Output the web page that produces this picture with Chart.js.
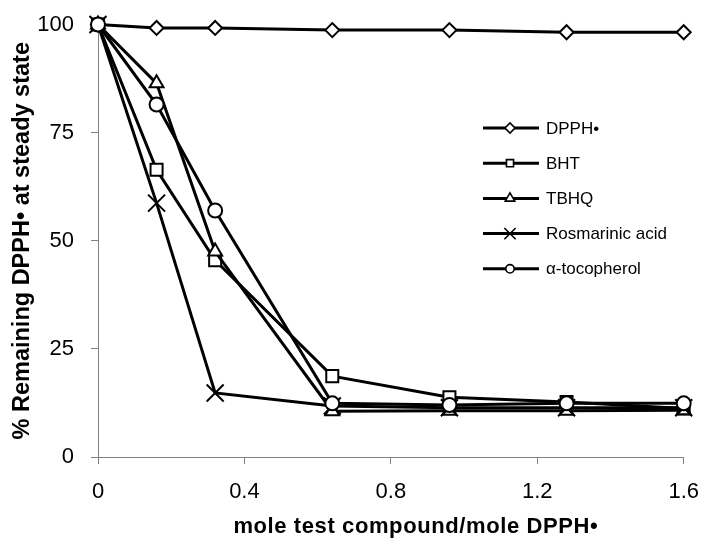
<!DOCTYPE html>
<html><head><meta charset="utf-8">
<script src="https://cdn.jsdelivr.net/npm/chart.js@4/dist/chart.umd.min.js"></script>
<style>html,body{margin:0;padding:0;background:#fff}#wrap{width:714px;height:541px;position:relative}</style>
</head><body><div id="wrap"><canvas id="c" width="714" height="541"></canvas></div>
<script>
// ---- data ----
const xValues = [0, 0.16, 0.32, 0.64, 0.96, 1.28, 1.6];
const seriesNames = ['DPPH\u2022', 'BHT', 'TBHQ', 'Rosmarinic acid', '\u03b1-tocopherol'];
const dpphValues = [100, 99.2, 99.2, 98.7, 98.7, 98.2, 98.2];
const bhtValues = [100, 66.4, 45.5, 18.7, 13.8, 12.7, 11.2];
const tbhqValues = [100, 86.4, 47.5, 10.6, 10.7, 10.7, 10.8];
const rosmarinicValues = [100, 58.7, 14.8, 11.8, 11.4, 11.4, 11.4];
const tocopherolValues = [100, 81.5, 57.0, 12.4, 12.0, 12.4, 12.4];
const xTickValues = [0, 0.4, 0.8, 1.2, 1.6];
const yTickValues = [0, 25, 50, 75, 100];
const xTitle = 'mole test compound/mole DPPH\u2022';
const yTitle = '% Remaining DPPH\u2022 at steady state';

// ---- styles ----
const seriesValues = [dpphValues, bhtValues, tbhqValues, rosmarinicValues, tocopherolValues];
const markerStyles = ['rectRot', 'rect', 'triangle', 'crossRot', 'circle'];
const markerRadius = [7, 8.5, 8, 12, 7];
const legendRadius = [5, 5, 5.5, 8, 4.2];

const datasets = seriesNames.map((name, i) => ({
  label: name,
  data: xValues.map((x, j) => ({x: x, y: seriesValues[i][j]})),
  borderColor: '#000',
  borderWidth: 3,
  backgroundColor: '#fff',
  pointStyle: markerStyles[i],
  pointRadius: markerRadius[i],
  pointHoverRadius: markerRadius[i],
  pointBackgroundColor: '#fff',
  pointBorderColor: '#000',
  pointBorderWidth: 2,
  tension: 0,
  clip: false,
  order: seriesNames.length - i
}));

const FONT = "'Liberation Sans', Arial, sans-serif";

const legendPlugin = {
  id: 'lineLegend',
  afterDraw(chart) {
    const ctx = chart.ctx;
    ctx.save();
    chart.data.datasets.forEach((ds, i) => {
      const y = 128 + i * 35.2;
      ctx.strokeStyle = '#000';
      ctx.lineWidth = 3;
      ctx.beginPath();
      ctx.moveTo(483, y);
      ctx.lineTo(539, y);
      ctx.stroke();
      ctx.fillStyle = '#fff';
      ctx.strokeStyle = '#000';
      ctx.lineWidth = 1.6;
      Chart.helpers.drawPoint(ctx, {pointStyle: ds.pointStyle, radius: legendRadius[i], rotation: 0, borderWidth: 1.6}, 510, y);
      ctx.fillStyle = '#000';
      ctx.font = '17px ' + FONT;
      ctx.textAlign = 'left';
      ctx.textBaseline = 'middle';
      ctx.fillText(ds.label, 546, y + 1);
    });
    // x-axis title (placed as in the reference, slightly right of plot centre)
    const xs = chart.scales.x;
    ctx.fillStyle = '#000';
    ctx.font = 'bold 22px ' + FONT;
    ctx.textAlign = 'center';
    ctx.textBaseline = 'middle';
    if ('letterSpacing' in ctx) ctx.letterSpacing = '0.6px';
    ctx.fillText(xTitle, (xs.left + xs.right) / 2 + 25, 527);
    ctx.restore();
  }
};

new Chart(document.getElementById('c'), {
  type: 'line',
  data: {datasets: datasets},
  plugins: [legendPlugin],
  options: {
    responsive: false,
    animation: false,
    devicePixelRatio: 1,
    layout: {padding: {left: 0, right: 20, top: 24.5, bottom: 0}},
    plugins: {legend: {display: false}, tooltip: {enabled: false}},
    scales: {
      x: {
        type: 'linear',
        min: 0, max: 1.6,
        afterBuildTicks(scale) { scale.ticks = xTickValues.map(v => ({value: v})); },
        afterFit(scale) { scale.height = 84; },
        ticks: {
          color: '#000',
          font: {family: FONT, size: 22},
          padding: 15,
          maxRotation: 0,
          callback: (v) => String(v)
        },
        grid: {display: true, drawOnChartArea: false, drawTicks: true, tickLength: 7, color: '#808080', lineWidth: 1},
        border: {display: true, color: '#808080', width: 1},
        title: {display: false}
      },
      y: {
        type: 'linear',
        min: 0, max: 100,
        afterBuildTicks(scale) { scale.ticks = yTickValues.map(v => ({value: v})); },
        afterFit(scale) { scale.width = 98; scale.paddingTop = 12; scale.paddingBottom = 12; },
        ticks: {
          color: '#000',
          font: {family: FONT, size: 22},
          padding: 17,
          callback: (v) => String(v)
        },
        grid: {display: true, drawOnChartArea: false, drawTicks: true, tickLength: 7, color: '#808080', lineWidth: 1},
        border: {display: true, color: '#808080', width: 1},
        title: {display: true, text: yTitle, color: '#000', font: {family: FONT, size: 23.5, weight: 'bold'}, padding: {top: 8, bottom: 0}}
      }
    }
  }
});
</script>
</body></html>
